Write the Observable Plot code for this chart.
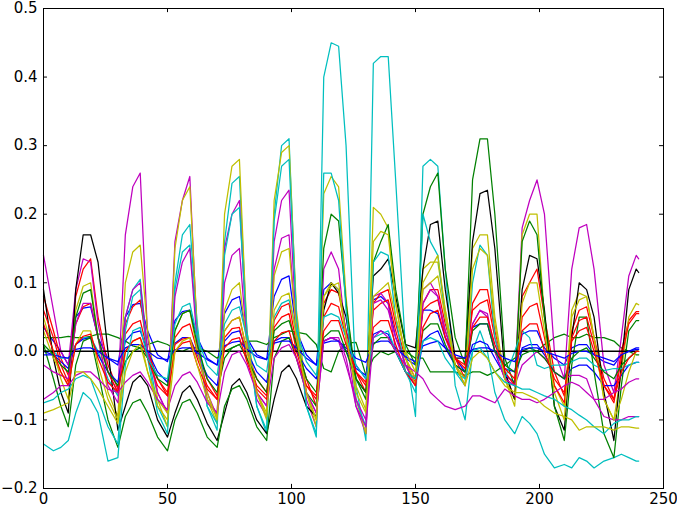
<!DOCTYPE html>
<html>
<head>
<meta charset="utf-8">
<script src="https://cdn.jsdelivr.net/npm/d3@7"></script>
<script src="https://cdn.jsdelivr.net/npm/@observablehq/plot@0.6"></script>
<style>
  html, body { margin: 0; padding: 0; background: #fff; }
</style>
</head>
<body>
<div id="chart"></div>
<script>
// sample positions shared by every series
const xs = [0, 4, 7,
  10, 13, 16, 19, 22, 26,
  30, 33, 36, 39, 42, 46,
  50, 53, 56, 59, 62, 66,
  70, 73, 76, 79, 82, 86,
  90, 93, 96, 99, 102, 106,
  110, 113, 116, 119, 122, 126,
  130, 133, 136, 139, 142, 146,
  150, 153, 156, 159, 162, 166,
  170, 173, 176, 179, 182, 186,
  190, 193, 196, 199, 202, 206,
  210, 213, 216, 219, 222, 226,
  230, 233, 236, 239, 240];

const xTicks = [0, 50, 100, 150, 200, 250];
const yTicks = [-0.2, -0.1, 0.0, 0.1, 0.2, 0.3, 0.4, 0.5];
const zeroLine = [0];
const zeroSpan = [0, 240];

const blue1 = [0.035, 0.015, 0.0,
  -0.02, 0.05, 0.063, 0.065, 0.02, -0.01,
  -0.02, 0.05, 0.068, 0.07, 0.03, -0.005,
  -0.015, 0.045, 0.058, 0.06, 0.02, -0.01,
  -0.02, 0.055, 0.075, 0.08, 0.02, -0.005,
  -0.012, 0.08, 0.105, 0.11, 0.03, -0.005,
  -0.02, 0.09, 0.1, 0.09, 0.03, -0.02,
  -0.04, 0.075, 0.08, 0.07, 0.02, -0.01,
  -0.02, 0.06, 0.06, 0.055, 0.02, -0.01,
  -0.03, 0.035, 0.04, 0.04, 0.0, -0.025,
  -0.03, 0.025, 0.03, 0.03, 0.005, -0.01,
  -0.02, 0.005, 0.01, 0.01, -0.005, -0.015,
  -0.02, -0.005, 0.0, 0.005, 0.005];
const green1 = [0.02, 0.02, 0.02,
  0.022, 0.02, 0.02, 0.022, 0.025, 0.025,
  0.02, 0.015, 0.008, 0.005, 0.01, 0.015,
  0.01, 0.003, 0.0, 0.005, 0.005, 0.0,
  -0.01, 0.0, 0.005, 0.01, 0.015, 0.015,
  0.01, 0.02, 0.025, 0.03, 0.028, 0.025,
  0.01, -0.025, -0.03, 0.0, 0.012, 0.013,
  -0.035, -0.01, 0.0, -0.005, 0.0, 0.0,
  -0.01, -0.01, -0.03, -0.03, -0.03, -0.03,
  -0.035, -0.03, -0.03, -0.035, -0.03, -0.02,
  -0.01, 0.0, 0.005, 0.0, 0.01, 0.02,
  0.025, 0.02, 0.02, 0.025, 0.02, 0.02,
  0.015, 0.005, 0.0, -0.005, -0.005];
const red1 = [0.08, 0.03, -0.01,
  -0.035, 0.08, 0.12, 0.135, 0.05, -0.02,
  -0.055, 0.04, 0.065, 0.075, 0.0, -0.04,
  -0.06, 0.02, 0.035, 0.04, 0.0, -0.04,
  -0.065, 0.03, 0.045, 0.05, 0.0, -0.04,
  -0.06, 0.045, 0.065, 0.07, 0.01, -0.04,
  -0.08, 0.07, 0.09, 0.085, 0.03, -0.03,
  -0.06, 0.07, 0.085, 0.09, 0.04, -0.01,
  -0.04, 0.07, 0.09, 0.09, 0.04, -0.01,
  -0.04, 0.07, 0.09, 0.09, 0.03, -0.03,
  -0.07, 0.08, 0.1, 0.12, 0.05, -0.03,
  -0.065, 0.03, 0.06, 0.065, 0.02, -0.04,
  -0.07, 0.0, 0.045, 0.058, 0.058];
const cyan1 = [0.0, 0.0, -0.01,
  -0.01, 0.01, 0.02, 0.02, 0.0, -0.04,
  -0.065, 0.05, 0.09, 0.105, 0.0, -0.08,
  -0.11, 0.1, 0.17, 0.185, 0.04, -0.08,
  -0.115, 0.16, 0.245, 0.255, 0.03, -0.08,
  -0.12, 0.2, 0.3, 0.31, 0.05, -0.08,
  -0.125, 0.4, 0.45, 0.445, 0.3, -0.05,
  -0.13, 0.42, 0.43, 0.43, 0.25, 0.0,
  -0.095, 0.27, 0.28, 0.27, 0.12, -0.05,
  -0.10, 0.0, 0.03, 0.0, -0.06, -0.1,
  -0.12, -0.095, -0.105, -0.12, -0.15, -0.17,
  -0.165, -0.17, -0.155, -0.16, -0.17, -0.16,
  -0.155, -0.15, -0.155, -0.16, -0.16];
const magenta1 = [0.14, 0.06, 0.0,
  -0.02, 0.09, 0.135, 0.13, 0.04, -0.03,
  -0.06, 0.17, 0.24, 0.26, 0.02, -0.06,
  -0.09, 0.16, 0.22, 0.255, 0.02, -0.06,
  -0.095, 0.15, 0.2, 0.22, 0.02, -0.07,
  -0.095, 0.16, 0.22, 0.235, 0.03, -0.07,
  -0.11, 0.12, 0.145, 0.12, 0.02, -0.08,
  -0.12, 0.08, 0.085, 0.07, 0.0, -0.03,
  -0.04, 0.09, 0.10, 0.08, 0.02, -0.02,
  -0.03, 0.04, 0.06, 0.05, 0.0, -0.04,
  -0.05, 0.18, 0.22, 0.25, 0.2, 0.0,
  -0.04, 0.12, 0.18, 0.185, 0.12, -0.02,
  -0.06, 0.02, 0.11, 0.14, 0.135];
const yellow1 = [0.05, 0.0, -0.04,
  -0.07, 0.06, 0.095, 0.1, 0.02, -0.06,
  -0.095, 0.1, 0.145, 0.155, 0.03, -0.07,
  -0.11, 0.15, 0.22, 0.24, 0.03, -0.07,
  -0.105, 0.2, 0.27, 0.28, 0.03, -0.06,
  -0.1, 0.22, 0.29, 0.3, 0.06, -0.06,
  -0.11, 0.23, 0.255, 0.24, 0.08, -0.07,
  -0.12, 0.21, 0.2, 0.18, 0.07, -0.01,
  -0.04, 0.12, 0.13, 0.13, 0.06, -0.02,
  -0.04, 0.15, 0.17, 0.17, 0.05, -0.04,
  -0.07, 0.17, 0.2, 0.2, 0.05, -0.05,
  -0.08, 0.06, 0.085, 0.08, 0.02, -0.07,
  -0.1, -0.03, 0.05, 0.07, 0.068];
const black1 = [0.09, -0.01, -0.06,
  -0.09, 0.09, 0.17, 0.17, 0.13, 0.0,
  -0.115, -0.08, -0.045, -0.035, -0.05, -0.1,
  -0.125, -0.09, -0.06, -0.05, -0.07, -0.105,
  -0.13, -0.09, -0.05, -0.04, -0.06, -0.1,
  -0.12, -0.07, -0.03, -0.02, -0.04, -0.08,
  -0.095, 0.06, 0.10, 0.085, 0.05, -0.04,
  -0.06, 0.11, 0.12, 0.135, 0.08, 0.01,
  0.005, 0.12, 0.185, 0.19, 0.09, -0.01,
  -0.01, 0.16, 0.23, 0.235, 0.15, -0.03,
  -0.07, 0.09, 0.14, 0.135, 0.06, -0.08,
  -0.115, 0.02, 0.1, 0.09, 0.05, -0.06,
  -0.13, -0.02, 0.09, 0.12, 0.115];
const blue2 = [0.0, -0.005, -0.015,
  -0.025, 0.01, 0.018, 0.02, -0.005, -0.03,
  -0.045, 0.015, 0.027, 0.03, 0.0, -0.03,
  -0.045, 0.012, 0.02, 0.02, -0.005, -0.035,
  -0.05, 0.015, 0.027, 0.03, 0.0, -0.03,
  -0.045, 0.015, 0.02, 0.02, 0.0, -0.025,
  -0.04, 0.015, 0.02, 0.015, 0.0, -0.025,
  -0.035, 0.025, 0.03, 0.025, 0.0, -0.03,
  -0.05, 0.015, 0.025, 0.03, 0.005, -0.02,
  -0.03, 0.01, 0.015, 0.01, -0.01, -0.035,
  -0.045, 0.005, 0.01, 0.01, -0.005, -0.03,
  -0.04, -0.025, -0.02, -0.02, -0.03, -0.05,
  -0.05, -0.035, -0.02, -0.016, -0.016];
const green2 = [0.01, -0.04, -0.08,
  -0.11, -0.02, 0.015, 0.02, -0.03, -0.1,
  -0.14, -0.095, -0.075, -0.07, -0.09, -0.125,
  -0.145, -0.1, -0.075, -0.07, -0.09, -0.125,
  -0.14, -0.08, -0.055, -0.05, -0.07, -0.11,
  -0.13, -0.01, 0.015, 0.02, -0.01, -0.06,
  -0.08, 0.15, 0.2, 0.19, 0.07, -0.04,
  -0.07, 0.13, 0.16, 0.185, 0.09, 0.01,
  -0.02, 0.2, 0.24, 0.26, 0.12, 0.02,
  -0.02, 0.25, 0.31, 0.31, 0.2, -0.01,
  -0.05, 0.16, 0.19, 0.17, 0.05, -0.08,
  -0.13, -0.02, 0.05, 0.05, -0.03, -0.12,
  -0.155, -0.05, 0.03, 0.045, 0.045];
const red2 = [0.06, 0.02, -0.02,
  -0.045, 0.04, 0.065, 0.07, 0.02, -0.03,
  -0.06, 0.025, 0.04, 0.045, 0.0, -0.04,
  -0.065, 0.01, 0.018, 0.02, -0.01, -0.05,
  -0.07, 0.02, 0.033, 0.035, -0.01, -0.05,
  -0.065, 0.035, 0.05, 0.055, 0.0, -0.05,
  -0.07, 0.05, 0.07, 0.065, 0.02, -0.03,
  -0.05, 0.06, 0.07, 0.075, 0.03, -0.02,
  -0.045, 0.06, 0.07, 0.075, 0.03, -0.01,
  -0.02, 0.06, 0.07, 0.075, 0.02, -0.03,
  -0.05, 0.05, 0.065, 0.07, 0.02, -0.05,
  -0.075, 0.02, 0.045, 0.05, 0.01, -0.05,
  -0.075, -0.01, 0.04, 0.055, 0.055];
const cyan2 = [-0.075, -0.07, -0.06,
  -0.055, -0.04, -0.035, -0.04, -0.07, -0.11,
  -0.135, 0.03, 0.08, 0.09, -0.01, -0.09,
  -0.12, 0.09, 0.145, 0.155, 0.03, -0.08,
  -0.105, 0.14, 0.2, 0.21, 0.03, -0.08,
  -0.115, 0.19, 0.27, 0.28, 0.05, -0.08,
  -0.12, 0.26, 0.26, 0.22, 0.06, -0.07,
  -0.11, 0.13, 0.145, 0.14, 0.05, -0.03,
  -0.06, 0.2, 0.16, 0.14, 0.05, -0.03,
  -0.05, 0.1, 0.155, 0.14, 0.02, -0.04,
  0.0, 0.03, 0.02, -0.02, -0.025, -0.02,
  -0.02, -0.015, -0.01, -0.01, -0.02, -0.028,
  -0.025, -0.025, -0.02, -0.016, -0.016];
const magenta2 = [-0.02, -0.03, -0.035,
  -0.04, 0.04, 0.07, 0.07, 0.02, -0.05,
  -0.075, 0.05, 0.09, 0.10, 0.0, -0.06,
  -0.09, 0.08, 0.13, 0.15, 0.01, -0.07,
  -0.09, 0.1, 0.14, 0.15, 0.01, -0.06,
  -0.08, 0.12, 0.165, 0.17, 0.02, -0.06,
  -0.09, 0.015, 0.02, 0.015, -0.02, -0.07,
  -0.1, 0.07, 0.075, 0.06, 0.02, -0.02,
  -0.05, 0.07, 0.09, 0.08, 0.03, -0.02,
  -0.05, 0.04, 0.06, 0.055, 0.0, -0.04,
  -0.05, -0.02, -0.01, 0.0, -0.01, -0.03,
  -0.04, -0.035, -0.035, -0.04, -0.07, -0.095,
  -0.1, -0.1, -0.095, -0.095, -0.095];
const yellow2 = [0.03, -0.01, -0.03,
  -0.05, 0.01, 0.03, 0.03, -0.02, -0.07,
  -0.1, 0.0, 0.015, 0.02, -0.03, -0.07,
  -0.09, 0.03, 0.055, 0.06, 0.0, -0.06,
  -0.1, 0.06, 0.09, 0.10, 0.01, -0.06,
  -0.09, 0.11, 0.145, 0.15, 0.03, -0.06,
  -0.1, 0.08, 0.1, 0.09, 0.02, -0.06,
  -0.09, 0.16, 0.175, 0.17, 0.07, -0.01,
  -0.05, 0.1, 0.12, 0.14, 0.06, -0.02,
  -0.05, 0.12, 0.15, 0.14, 0.04, -0.04,
  -0.08, 0.07, 0.1, 0.1, 0.03, -0.06,
  -0.1, 0.05, 0.075, 0.08, 0.02, -0.07,
  -0.1, -0.07, -0.03, 0.0, 0.0];
const blue3 = [-0.005, -0.005, -0.008,
  -0.01, 0.003, 0.005, 0.005, 0.0, -0.01,
  -0.015, 0.005, 0.01, 0.01, 0.0, -0.01,
  -0.012, 0.002, 0.005, 0.005, -0.002, -0.012,
  -0.02, 0.008, 0.013, 0.015, 0.003, -0.008,
  -0.012, 0.012, 0.015, 0.015, 0.005, -0.01,
  -0.02, 0.012, 0.015, 0.015, 0.005, -0.01,
  -0.016, 0.012, 0.015, 0.015, 0.005, -0.008,
  -0.015, 0.008, 0.012, 0.015, 0.005, -0.005,
  -0.01, 0.003, 0.005, 0.005, 0.0, -0.01,
  -0.015, 0.003, 0.005, 0.005, 0.0, -0.005,
  -0.01, -0.003, 0.0, 0.0, -0.005, -0.01,
  -0.015, -0.005, 0.0, 0.003, 0.003];
const green3 = [0.01, -0.005, -0.02,
  -0.03, 0.05, 0.085, 0.09, 0.02, -0.03,
  -0.05, -0.015, 0.0, 0.005, -0.01, -0.04,
  -0.05, 0.03, 0.055, 0.06, 0.01, -0.04,
  -0.06, -0.01, 0.005, 0.01, -0.01, -0.04,
  -0.06, 0.03, 0.04, 0.045, 0.01, -0.04,
  -0.06, 0.02, 0.03, 0.03, 0.0, -0.04,
  -0.06, 0.01, 0.02, 0.02, 0.0, -0.03,
  -0.04, 0.03, 0.04, 0.04, 0.01, -0.02,
  -0.03, 0.03, 0.04, 0.04, 0.0, -0.02,
  -0.03, -0.005, 0.0, 0.0, -0.01, -0.03,
  -0.04, -0.01, 0.0, 0.005, -0.01, -0.03,
  -0.04, -0.02, -0.01, 0.0, 0.0];
const red3 = [0.04, 0.0, -0.03,
  -0.05, 0.01, 0.022, 0.025, -0.01, -0.045,
  -0.06, 0.0, 0.015, 0.02, -0.01, -0.05,
  -0.065, 0.0, 0.012, 0.015, -0.02, -0.055,
  -0.07, 0.005, 0.017, 0.02, -0.015, -0.055,
  -0.07, 0.015, 0.027, 0.03, -0.01, -0.05,
  -0.065, 0.03, 0.045, 0.045, 0.01, -0.03,
  -0.045, 0.035, 0.045, 0.045, 0.01, -0.03,
  -0.05, 0.035, 0.055, 0.06, 0.02, -0.01,
  -0.025, 0.035, 0.05, 0.05, 0.01, -0.025,
  -0.04, 0.03, 0.04, 0.04, 0.0, -0.04,
  -0.06, 0.015, 0.03, 0.035, 0.0, -0.05,
  -0.07, -0.03, -0.01, 0.0, 0.0];
const cyan3 = [-0.135, -0.145, -0.14,
  -0.13, -0.09, -0.06, -0.07, -0.09, -0.16,
  -0.155, -0.02, 0.03, 0.035, -0.01, -0.035,
  -0.04, 0.04, 0.065, 0.07, 0.02, -0.02,
  -0.035, 0.04, 0.06, 0.065, 0.02, -0.02,
  -0.03, 0.05, 0.07, 0.075, 0.03, -0.015,
  -0.035, 0.05, 0.055, 0.05, 0.02, -0.02,
  -0.04, 0.02, 0.025, 0.03, 0.0, -0.03,
  -0.04, 0.015, 0.02, 0.015, -0.01, -0.03,
  -0.04, 0.0, 0.005, -0.01, -0.03, -0.045,
  -0.05, -0.055, -0.055, -0.06, -0.065, -0.07,
  -0.08, -0.085, -0.093, -0.1, -0.11, -0.12,
  -0.105, -0.1, -0.1, -0.095, -0.095];
const magenta3 = [-0.07, -0.06, -0.05,
  -0.05, -0.035, -0.03, -0.03, -0.04, -0.055,
  -0.06, -0.045, -0.035, -0.03, -0.045, -0.07,
  -0.085, -0.05, -0.035, -0.03, -0.045, -0.075,
  -0.09, -0.03, -0.005, 0.0, -0.02, -0.06,
  -0.08, -0.01, 0.005, 0.01, -0.01, -0.06,
  -0.09, 0.015, 0.02, 0.02, -0.01, -0.08,
  -0.11, 0.02, 0.03, 0.02, 0.0, -0.02,
  -0.03, -0.04, -0.06, -0.07, -0.08, -0.085,
  -0.08, -0.065, -0.065, -0.07, -0.075, -0.055,
  -0.065, -0.07, -0.07, -0.075, -0.07, -0.06,
  -0.05, -0.045, -0.05, -0.06, -0.07, -0.07,
  -0.06, -0.055, -0.045, -0.04, -0.04];
const yellow3 = [-0.09, -0.085, -0.08,
  -0.075, -0.03, -0.03, -0.04, -0.055, -0.08,
  -0.105, -0.03, 0.0, 0.01, -0.03, -0.08,
  -0.1, 0.0, 0.015, 0.02, -0.02, -0.07,
  -0.095, 0.03, 0.045, 0.05, 0.0, -0.06,
  -0.095, 0.06, 0.08, 0.085, 0.02, -0.06,
  -0.1, 0.08, 0.095, 0.1, 0.02, -0.05,
  -0.085, 0.08, 0.09, 0.1, 0.05, 0.0,
  -0.03, 0.09, 0.1, 0.11, 0.05, -0.02,
  -0.05, -0.01, 0.0, -0.01, -0.03, -0.05,
  -0.06, -0.06, -0.065, -0.07, -0.08, -0.09,
  -0.095, -0.1, -0.115, -0.11, -0.11, -0.11,
  -0.115, -0.11, -0.11, -0.112, -0.112];

const B = "#0000ff", G = "#008000", R = "#ff0000", C = "#00bfbf", M = "#bf00bf", Y = "#bfbf00", K = "#000000";

const seriesFirst = [
  [blue1, B], [green1, G], [red1, R], [cyan1, C], [magenta1, M], [yellow1, Y], [black1, K],
  [blue2, B], [green2, G], [red2, R], [cyan2, C], [magenta2, M], [yellow2, Y]
];
const seriesLast = [
  [blue3, B], [green3, G], [red3, R], [cyan3, C], [magenta3, M], [yellow3, Y]
];

const lineMark = ([vals, color]) =>
  Plot.line(vals.map((v, i) => ({x: xs[i], y: v})), {x: "x", y: "y", stroke: color, strokeWidth: 1.25});

const chart = Plot.plot({
  width: 677,
  height: 508,
  marginLeft: 43,
  marginRight: 14,
  marginTop: 8,
  marginBottom: 20,
  style: {fontFamily: "DejaVu Sans", fontSize: "15px", background: "#fff", color: "#000"},
  x: {domain: [0, 250], ticks: xTicks, tickSize: 0, tickPadding: 5, label: null, tickFormat: d => String(d)},
  y: {domain: [-0.2, 0.5], ticks: yTicks, tickSize: 0, tickPadding: 6, label: null, tickFormat: d3.format(".1f")},
  marks: [
    ...seriesFirst.map(lineMark),
    Plot.ruleY(zeroLine, {y: d => d, x1: zeroSpan[0], x2: zeroSpan[1], stroke: K, strokeWidth: 1.5}),
    ...seriesLast.map(lineMark),
    Plot.ruleX(xTicks, {x: d => d, y1: -0.2, y2: -0.2 + 0.006, stroke: K}),
    Plot.ruleX(xTicks, {x: d => d, y1: 0.5 - 0.006, y2: 0.5, stroke: K}),
    Plot.ruleY(yTicks, {y: d => d, x1: 0, x2: 1.6, stroke: K}),
    Plot.ruleY(yTicks, {y: d => d, x1: 248.4, x2: 250, stroke: K}),
    Plot.frame({stroke: K, strokeWidth: 1})
  ]
});
document.getElementById("chart").appendChild(chart);
</script>
</body>
</html>
